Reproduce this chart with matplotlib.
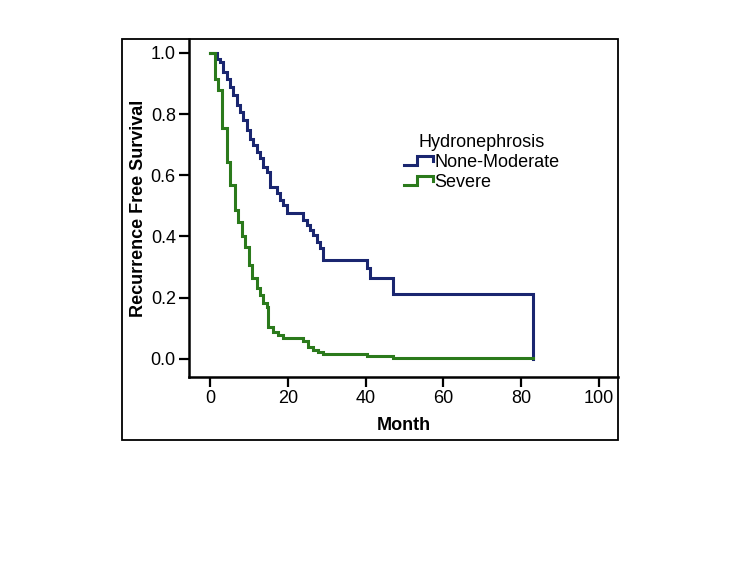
#!/usr/bin/env python3

"""
Kaplan-Meier style recurrence free survival by hydronephrosis grade
"""

import matplotlib
matplotlib.use('Agg')
import matplotlib.pyplot as plt
from matplotlib.legend_handler import HandlerBase
from matplotlib.lines import Line2D
from matplotlib.patches import Rectangle

plt.rcParams['font.family'] = ['Liberation Sans', 'DejaVu Sans']

# None-Moderate group: event times (month) and survival after each event
none_mod_months = [0, 1.7, 2.6, 3.4, 4.3, 5.1, 6.0, 6.9, 7.7, 8.6, 9.4, 10.3,
                   11.1, 12.0, 12.9, 13.7, 14.6, 15.4, 17.1, 18.0, 18.8, 19.7,
                   24.0, 24.9, 25.7, 26.6, 27.5, 28.3, 29.1, 40.3, 41.2, 47.1,
                   83.1]
none_mod_surv = [1.0, 0.98, 0.971, 0.938, 0.916, 0.889, 0.862, 0.829, 0.807,
                 0.780, 0.748, 0.720, 0.699, 0.677, 0.655, 0.628, 0.611, 0.563,
                 0.541, 0.519, 0.503, 0.476, 0.454, 0.437, 0.421, 0.405, 0.383,
                 0.361, 0.323, 0.296, 0.263, 0.212, 0.0]

# Severe group
severe_months = [0, 1.3, 2.1, 3.0, 4.3, 5.1, 6.4, 7.3, 8.1, 9.0, 9.9, 10.7,
                 12.0, 12.9, 13.7, 14.6, 15.0, 16.3, 17.6, 18.8, 24.0, 25.3,
                 26.6, 27.8, 29.1, 40.3, 47.1, 83.1]
severe_surv = [1.0, 0.916, 0.878, 0.753, 0.644, 0.568, 0.486, 0.448, 0.40,
               0.367, 0.307, 0.263, 0.231, 0.209, 0.182, 0.171, 0.105, 0.089,
               0.078, 0.068, 0.057, 0.040, 0.029, 0.024, 0.016, 0.008, 0.004,
               0.004]

group_names = ['None-Moderate', 'Severe']
group_colors = ['#1a2670', '#2b7a1c']

x_ticks = [0, 20, 40, 60, 80, 100]
y_ticks = [0.0, 0.2, 0.4, 0.6, 0.8, 1.0]


class StepHandler(HandlerBase):
    """Draws the little step-shaped legend key used by SPSS."""
    def create_artists(self, legend, orig_handle, xdescent, ydescent,
                       width, height, fontsize, trans):
        x0 = -xdescent
        y0 = -ydescent
        xs = [x0, x0 + 0.45 * width, x0 + 0.45 * width, x0 + width, x0 + width]
        ys = [y0 + 0.15 * height, y0 + 0.15 * height, y0 + 0.85 * height,
              y0 + 0.85 * height, y0 + 0.45 * height]
        line = Line2D(xs, ys, color=orig_handle.get_color(),
                      linewidth=orig_handle.get_linewidth(),
                      solid_joinstyle='miter', transform=trans)
        return [line]


fig = plt.figure(figsize=(7.5, 5.63), dpi=100)
ax = fig.add_axes([0.252, 0.3304, 0.572, 0.6003])

handles = []
for months, surv, name, color in zip([none_mod_months, severe_months],
                                     [none_mod_surv, severe_surv],
                                     group_names, group_colors):
    line, = ax.step(months, surv, where='post', color=color, linewidth=2.2,
                    solid_joinstyle='miter', label=name)
    handles.append(line)

ax.set_xlim(-5.4, 104.9)
ax.set_ylim(-0.059, 1.045)
ax.set_xticks(x_ticks)
ax.set_yticks(y_ticks)
ax.set_yticklabels(['{:.1f}'.format(v) for v in y_ticks])
ax.tick_params(direction='out', length=7.5, width=1.6, labelsize=13, pad=2,
               colors='black')

for side in ('top', 'right'):
    ax.spines[side].set_visible(False)
for side in ('left', 'bottom'):
    ax.spines[side].set_linewidth(1.8)

ax.set_xlabel('Month', fontsize=13, fontweight='bold', labelpad=7)
ax.set_ylabel('Recurrence Free Survival', fontsize=13, fontweight='bold',
              labelpad=3)

leg = ax.legend(handles=handles, title='Hydronephrosis', loc='upper left',
                bbox_to_anchor=(0.48, 0.745), frameon=False, fontsize=13,
                title_fontsize=13, handlelength=1.6, handletextpad=0.1,
                labelspacing=0.15, borderpad=0.0,
                handler_map={Line2D: StepHandler()})

# outer frame around the whole chart (SPSS style)
frame = Rectangle((122 / 750, 1 - 440 / 563), (618 - 122) / 750,
                  (440 - 39) / 563, transform=fig.transFigure, fill=False,
                  edgecolor='black', linewidth=1.3)
fig.patches.append(frame)

plt.savefig('out.png', dpi=100)
